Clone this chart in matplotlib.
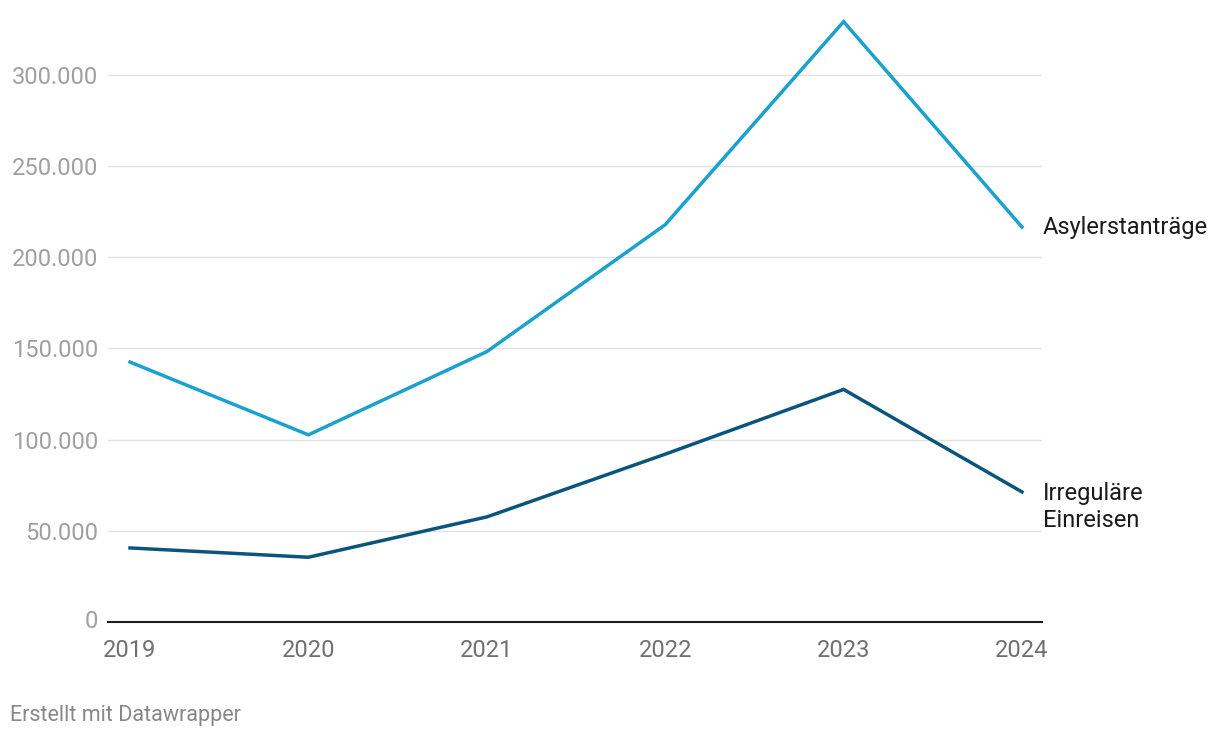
import matplotlib
matplotlib.use('Agg')
import matplotlib.pyplot as plt

plt.rcParams['font.family'] = ['Roboto', 'DejaVu Sans']

years = [2019, 2020, 2021, 2022, 2023, 2024]
asyl = [142500, 102600, 148200, 217800, 329100, 216500]
irregulaer = [40600, 35500, 57600, 92000, 127500, 71300]
yticks = [0, 50000, 100000, 150000, 200000, 250000, 300000]
ytick_labels = ['0', '50.000', '100.000', '150.000', '200.000', '250.000', '300.000']

c_asyl = '#1aa1cd'
c_irr = '#0a557e'

W, H = 1220, 738
fig = plt.figure(figsize=(W / 100, H / 100), dpi=100)
ax = fig.add_axes([108 / W, 1 - 622 / H, (1042 - 108) / W, (622 - 20) / H])

ax.plot(years, asyl, color=c_asyl, lw=2.5, clip_on=False, solid_joinstyle='miter', zorder=3)
ax.plot(years, irregulaer, color=c_irr, lw=2.5, clip_on=False, solid_joinstyle='miter', zorder=3)

ax.set_xlim(2019 - 22 / 178.4, 2024 + 20 / 178.4)
ax.set_ylim(0, 330000)
ax.set_yticks(yticks[1:])
ax.set_yticklabels(ytick_labels[1:])
ax.set_xticks(years)
ax.set_xticklabels([str(y) for y in years])

for y in yticks[1:]:
    ax.axhline(y, color='#e2e2e2', lw=1, zorder=1)
ax.axhline(0, color='#1a1a1a', lw=1.5, zorder=2, clip_on=False)
ax.text(-10 / 934, 0, '0', transform=ax.get_yaxis_transform(), ha='right', va='center',
        fontsize=17, color='#a0a0a0')

for s in ax.spines.values():
    s.set_visible(False)
ax.tick_params(axis='y', length=0, pad=7, labelsize=17, labelcolor='#a0a0a0')
ax.tick_params(axis='x', length=0, pad=12, labelsize=17, labelcolor='#707070')

ax.annotate('Asylerstanträge', (years[-1], asyl[-1]), xytext=(15, 0), textcoords='offset points',
            ha='left', va='center', fontsize=17, color='#1a1a1a')
ax.annotate('Irreguläre\nEinreisen', (years[-1], irregulaer[-1]), xytext=(15, 7.5), textcoords='offset points',
            ha='left', va='top', fontsize=17, color='#1a1a1a', linespacing=1.25)

fig.text(10 / W, 1 - 715 / H, 'Erstellt mit Datawrapper', ha='left', va='center',
         fontsize=15.5, color='#888888')

fig.savefig('out.png', dpi=100, facecolor='white')
